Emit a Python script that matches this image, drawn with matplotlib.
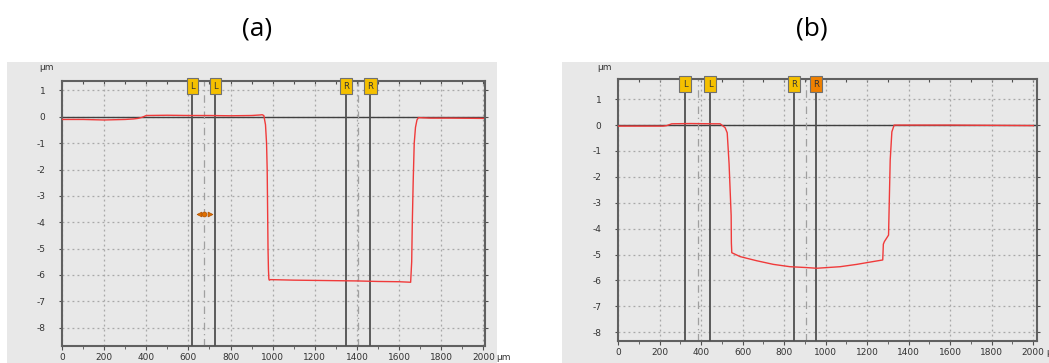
import matplotlib
matplotlib.use("Agg")
import matplotlib.pyplot as plt
from matplotlib.patches import Rectangle
from matplotlib.ticker import MultipleLocator

plt.rcParams["axes.unicode_minus"] = False

# profile (a): position in um, height in um
xa = [0, 100, 200, 300, 340, 360, 380, 400, 500, 600, 700, 800, 900, 940, 950, 958,
      966, 971, 974, 976, 978, 980, 982, 984, 990, 1100, 1200, 1300, 1400, 1500,
      1600, 1655, 1660, 1663, 1667, 1672, 1678, 1685, 1692, 1750, 1850, 2000]
ya = [-0.1, -0.1, -0.12, -0.1, -0.08, -0.06, -0.02, 0.05, 0.06, 0.05, 0.05, 0.04,
      0.05, 0.07, 0.08, 0.05, -0.3, -1.0, -2.0, -3.5, -5.0, -5.8, -6.15, -6.2,
      -6.18, -6.2, -6.21, -6.22, -6.23, -6.25, -6.26, -6.28, -5.5, -4.0, -2.5,
      -1.0, -0.4, -0.12, -0.03, -0.05, -0.05, -0.06]

# profile (b)
xb = [0, 100, 217, 235, 259, 350, 450, 492, 500, 516, 526, 535, 540, 545, 546, 548,
      588, 668, 748, 828, 900, 957, 1070, 1150, 1230, 1275, 1278, 1283, 1303, 1306,
      1311, 1319, 1330, 1400, 1600, 1800, 2000]
yb = [-0.04, -0.04, -0.04, -0.02, 0.05, 0.06, 0.05, 0.05, 0.0, -0.1, -0.3, -1.5,
      -2.5, -3.5, -4.55, -4.93, -5.08, -5.24, -5.38, -5.47, -5.5, -5.53, -5.47,
      -5.38, -5.27, -5.21, -4.6, -4.5, -4.25, -3.15, -1.35, -0.26, 0.0, 0.0, 0.0,
      -0.01, -0.02]

# cursor lines: L, L, R, R and the dashed centre lines
cursors_a = [618, 727, 1348, 1464]
centres_a = [675, 1403]
cursors_b = [323, 443, 848, 954]
centres_b = [384, 904]
labels = ["L", "L", "R", "R"]
box_colors_a = ["#f5c000", "#f5c000", "#f5c000", "#f5c000"]
box_colors_b = ["#f5c000", "#f5c000", "#f5c000", "#f08000"]

# drag handle in (a): left arrow, centre dot, right arrow
handle_x = [648, 675, 702]
handle_y = -3.67
handle_marks = ["<", "o", ">"]

bg = "#e8e8e8"
fig = plt.figure(figsize=(10.49, 3.63), dpi=100)
W, H = 1049, 363

# gray panels behind each plot
fig.patches.append(Rectangle((7 / W, 0), 490 / W, (H - 62) / H, transform=fig.transFigure,
                             facecolor=bg, edgecolor="none", zorder=-5))
fig.patches.append(Rectangle((562 / W, 0), 487 / W, (H - 62) / H, transform=fig.transFigure,
                             facecolor=bg, edgecolor="none", zorder=-5))


def draw(rect, x, y, ylim, xmax, cursors, centres, box_colors, title, title_x, um_pos):
    ax = fig.add_axes(rect)
    ax.set_facecolor(bg)
    ax.set_xlim(0, xmax)
    ax.set_ylim(*ylim)
    ax.xaxis.set_major_locator(MultipleLocator(200))
    ax.xaxis.set_minor_locator(MultipleLocator(100))
    ax.yaxis.set_major_locator(MultipleLocator(1))
    ax.grid(True, which="major", color="#a8a8a8", linestyle=(0, (1.5, 2.5)), linewidth=0.9)
    for s in ax.spines.values():
        s.set_color("#606060")
        s.set_linewidth(1.5)
    ax.tick_params(axis="x", which="major", direction="out", length=3, color="#505050",
                   labelsize=6.5, labelcolor="#333333", pad=2)
    ax.tick_params(axis="x", which="minor", direction="out", length=2, color="#505050")
    ax.tick_params(axis="y", direction="out", length=2, color="#505050", labelsize=6.5,
                   labelcolor="#333333", right=True, pad=10)
    ticks = list(range(0, 2001, 200))
    ax.set_xticks(ticks)
    ax.set_xticklabels([str(t) for t in ticks])
    ax.annotate("µm", xy=(2000, ylim[0]), xytext=(9, -8.5), textcoords="offset points",
                fontsize=6.5, color="#333333", va="center", ha="left", annotation_clip=False)
    top = ax.secondary_xaxis("top")
    top.xaxis.set_major_locator(MultipleLocator(100))
    top.tick_params(direction="in", length=2, color="#505050", labeltop=False)
    top.spines["top"].set_visible(False)

    ax.axhline(0, color="#404040", linewidth=1.0, zorder=2)
    for c in centres:
        ax.axvline(c, color="#a0a0a0", linewidth=0.9, linestyle=(0, (6, 3, 1, 3)), zorder=2)
    for c, lab, fc in zip(cursors, labels, box_colors):
        ax.axvline(c, color="#505050", linewidth=1.3, zorder=3)
        ax.text(c, 0.997, lab, transform=ax.get_xaxis_transform(), ha="center", va="top",
                fontsize=6, color="#333333", zorder=5,
                bbox=dict(boxstyle="square,pad=0.4", facecolor=fc, edgecolor="#707070",
                          linewidth=0.8))
    ax.plot(x, y, color="#f03a3a", linewidth=1.0, zorder=4)

    fig.text(um_pos[0] / W, 1 - um_pos[1] / H, "µm", fontsize=6.5, color="#333333",
             ha="center", va="center")
    fig.text(title_x / W, 1 - 29 / H, title, fontsize=19, family="Open Sans",
             ha="center", va="center")
    return ax


ax_a = draw([62 / W, (H - 346) / H, 423 / W, 265 / H], xa, ya, (-8.7, 1.36), 2008,
            cursors_a, centres_a, box_colors_a, "(a)", 257, (46, 68))
for hx, m in zip(handle_x, handle_marks):
    ax_a.plot([hx], [handle_y], linestyle="none", marker=m, markersize=3.5,
              color="#e07000", markeredgecolor="#b05000", markeredgewidth=0.5, zorder=6)

draw([618 / W, (H - 341) / H, 419 / W, 262 / H], xb, yb, (-8.34, 1.78), 2018,
     cursors_b, centres_b, box_colors_b, "(b)", 812, (604, 67))

fig.savefig("out.png", dpi=100)
